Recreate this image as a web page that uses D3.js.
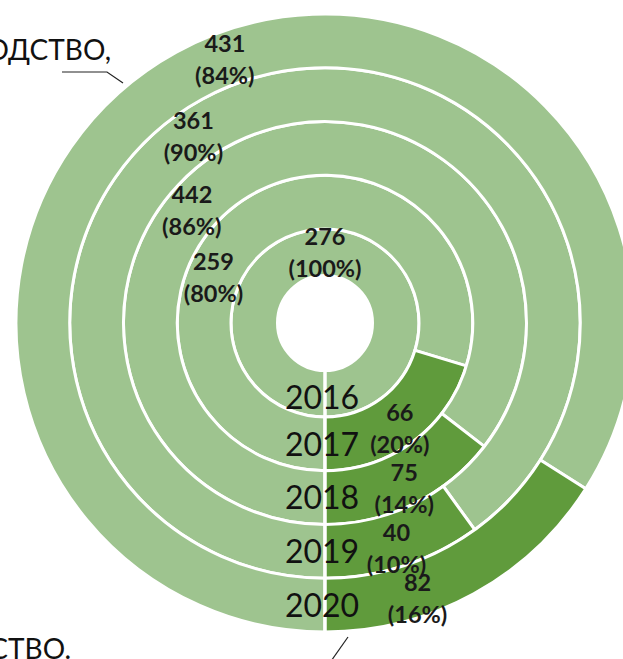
<!DOCTYPE html>
<html>
<head>
<meta charset="utf-8">
<script src="https://cdn.jsdelivr.net/npm/d3@7"></script>
<style>
  html, body { margin: 0; padding: 0; background: #ffffff; overflow: hidden; }
  svg { display: block; }
</style>
</head>
<body>
<svg id="chart" width="623" height="659"></svg>
<script>
// ---- data ----
const years = ["2016", "2017", "2018", "2019", "2020"];
const lightValues = [276, 259, 442, 361, 431];
const darkValues = [0, 66, 75, 40, 82];
const lightPct = ["100%", "80%", "86%", "90%", "84%"];
const darkPct = [null, "20%", "14%", "10%", "16%"];
const topCaption = "ПРОИЗВОДСТВО,";
const bottomCaption = "ПРОИЗВОДСТВО.";

// ---- layout (label placement angles, degrees clockwise from 12 o'clock) ----
const lightLabelAngle = [0, -67.4, -49.7, -35.2, -20.8];
const darkLabelAngle = [null, 144.5, 154.3, 162.4, 161.4];

const W = 623, H = 659;
const cx = 325, cy = 323;
const holeR = 47.5;
const lightColor = "#9ec48f";
const darkColor = "#609b3c";

const svg = d3.select("#chart");
svg.append("rect").attr("width", W).attr("height", H).attr("fill", "#fff");

const g = svg.append("g").attr("transform", `translate(${cx},${cy})`);

// outer radius of each ring
const rOuter = d3.scaleLinear().domain([0, years.length - 1]).range([94, 309]);
const rInner = i => (i === 0 ? holeR : rOuter(i - 1));
const rMid = i => (rInner(i) + rOuter(i)) / 2;

const pie = d3.pie().sort(null).startAngle(Math.PI).endAngle(3 * Math.PI);
const arc = d3.arc();

years.forEach((y, i) => {
  const slices = pie([lightValues[i], darkValues[i]]);
  g.selectAll(null)
    .data(slices)
    .enter()
    .append("path")
    .attr("d", d => arc({
      innerRadius: rInner(i), outerRadius: rOuter(i),
      startAngle: d.startAngle, endAngle: d.endAngle
    }))
    .attr("fill", (d, k) => (k === 0 ? lightColor : darkColor))
    .attr("stroke", "#fff")
    .attr("stroke-width", 3)
    .attr("stroke-linejoin", "miter");
});

// seam at the bottom (start of every ring)
g.append("line")
  .attr("x1", 0).attr("y1", holeR)
  .attr("x2", 0).attr("y2", rOuter(years.length - 1) + 2)
  .attr("stroke", "#fff").attr("stroke-width", 3);

// hole
g.append("circle").attr("r", holeR).attr("fill", "#fff");

// value labels
const labelFont = "Lato, 'Open Sans', sans-serif";
function twoLine(x, y, l1, l2) {
  const t = g.append("text")
    .attr("text-anchor", "middle")
    .attr("font-family", labelFont)
    .attr("font-weight", 700)
    .attr("font-size", 23.5)
    .attr("fill", "#1a1a1a");
  t.append("tspan").attr("x", x).attr("y", y - 16).attr("dominant-baseline", "central").text(l1);
  t.append("tspan").attr("x", x).attr("y", y + 16).attr("dominant-baseline", "central").text(l2);
}
const rad = a => a * Math.PI / 180;

years.forEach((y, i) => {
  const a = rad(lightLabelAngle[i]);
  const r = rMid(i);
  twoLine(r * Math.sin(a), -r * Math.cos(a), String(lightValues[i]), `(${lightPct[i]})`);
  if (darkValues[i] > 0) {
    const b = rad(darkLabelAngle[i]);
    const rd = rMid(i) + 8;
    twoLine(rd * Math.sin(b), -rd * Math.cos(b), String(darkValues[i]), `(${darkPct[i]})`);
  }
});

// year labels along the bottom seam
years.forEach((y, i) => {
  g.append("text")
    .attr("x", -3)
    .attr("y", rInner(i) + 26)
    .attr("text-anchor", "middle")
    .attr("dominant-baseline", "central")
    .attr("font-family", labelFont)
    .attr("font-weight", 400)
    .attr("font-size", 32)
    .attr("fill", "#111")
    .text(y);
});

// captions (cut off by the frame, as in the reference)
svg.append("text")
  .attr("x", 111).attr("y", 60)
  .attr("text-anchor", "end")
  .attr("font-family", labelFont)
  .attr("font-weight", 400)
  .attr("font-size", 28)
  .attr("fill", "#111")
  .text(topCaption);
svg.append("polyline")
  .attr("points", "62,72 107,72 123,83")
  .attr("fill", "none").attr("stroke", "#222").attr("stroke-width", 1.2);

svg.append("text")
  .attr("x", 71).attr("y", 659)
  .attr("text-anchor", "end")
  .attr("font-family", labelFont)
  .attr("font-weight", 400)
  .attr("font-size", 28)
  .attr("fill", "#111")
  .text(bottomCaption);
svg.append("line")
  .attr("x1", 348).attr("y1", 637).attr("x2", 329).attr("y2", 664)
  .attr("stroke", "#222").attr("stroke-width", 1.2);
</script>
</body>
</html>
